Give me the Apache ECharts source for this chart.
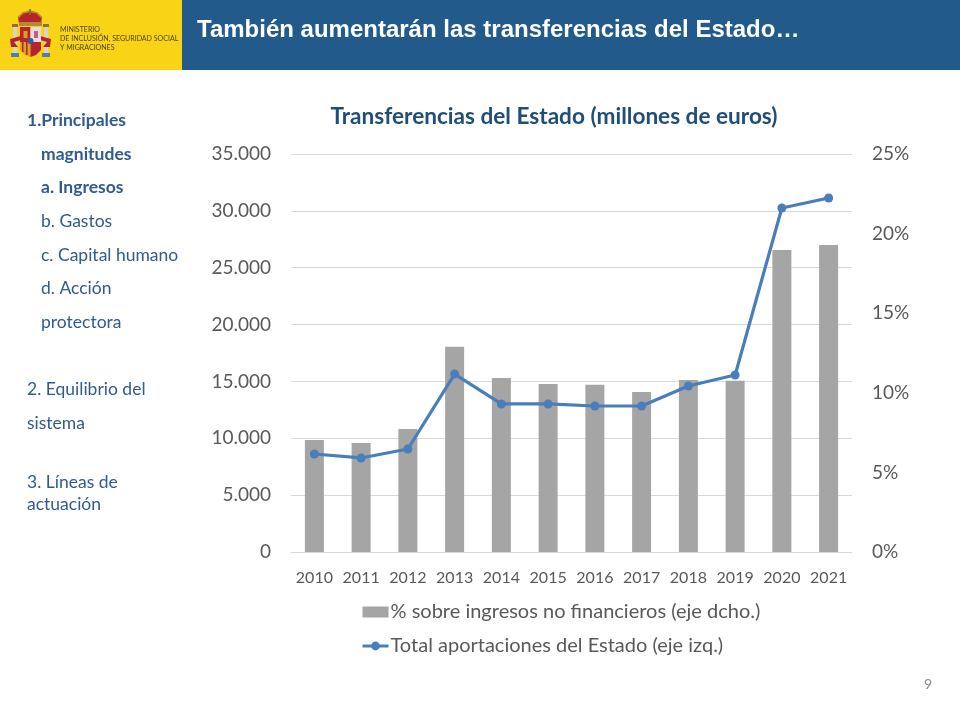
<!DOCTYPE html>
<html><head><meta charset="utf-8">
<style>html,body{margin:0;padding:0;background:#fff}#c{width:960px;height:720px}</style>
<script src="https://cdn.jsdelivr.net/npm/echarts@6/dist/echarts.min.js"></script>
</head><body><div id="c"></div>
<script>
var years=['2010','2011','2012','2013','2014','2015','2016','2017','2018','2019','2020','2021'];
var pctIngresos=[7.03,6.85,7.72,12.9,10.93,10.55,10.5,10.05,10.8,10.75,18.97,19.28];
var totalAportaciones=[8620,8270,9060,15650,13020,13020,12840,12840,14600,15570,30250,31130];
var barName='% sobre ingresos no financieros (eje dcho.)';
var lineName='Total aportaciones del Estado (eje izq.)';
var chartTitle='Transferencias del Estado (millones de euros)';
var slideTitle='También aumentarán las transferencias del Estado…';
var ministryLines=['MINISTERIO','DE INCLUSIÓN, SEGURIDAD SOCIAL','Y MIGRACIONES'];
var pageNumber='9';
var navItems=[
 ['1.Principales',27,120,true],['magnitudes',41,154,true],['a. Ingresos',41,187,true],
 ['b. Gastos',41,221,false],['c. Capital humano',41,255,false],['d. Acción',41,288,false],
 ['protectora',41,322,false],['2. Equilibrio del',27,389,false],['sistema',27,423,false],
 ['3. Líneas de',27,482,false],['actuación',27,504,false]];
var font='Lato, "Open Sans", sans-serif';
var grey='#595959', navy='#2f5b91';
var g=[
 {type:'rect',shape:{x:0,y:0,width:182,height:70},style:{fill:'#f9d316'}},
 {type:'rect',shape:{x:182,y:0,width:778,height:70},style:{fill:'#215a8b'}},
 {type:'text',style:{x:197,y:30,text:slideTitle,fill:'#fff',font:'bold 24px "Liberation Sans", Arial, sans-serif',textVerticalAlign:'middle'}},
 {type:'text',style:{x:928,y:684,text:pageNumber,fill:'#8a8a8a',font:'14px '+font,textAlign:'center',textVerticalAlign:'middle'}},
 // emblem: pillars
 {type:'rect',shape:{x:13,y:27,width:4,height:26},style:{fill:'#d8d4c4'}},
 {type:'rect',shape:{x:44,y:27,width:4,height:26},style:{fill:'#d8d4c4'}},
 {type:'rect',shape:{x:12,y:24,width:6,height:3},style:{fill:'#9a6b2a'}},
 {type:'rect',shape:{x:43,y:24,width:6,height:3},style:{fill:'#9a6b2a'}},
 {type:'rect',shape:{x:11,y:53,width:8,height:4},style:{fill:'#4f7fa8'}},
 {type:'rect',shape:{x:42,y:53,width:8,height:4},style:{fill:'#4f7fa8'}},
 // ribbons
 {type:'polygon',shape:{points:[[10,39],[21,36],[21,40],[14,42],[18,47],[11,47]]},style:{fill:'#b8242c'}},
 {type:'polygon',shape:{points:[[51,39],[40,36],[40,40],[47,42],[43,47],[50,47]]},style:{fill:'#b8242c'}},
 // crown
 {type:'polygon',shape:{points:[[19,24],[18,17],[23,13],[30,12],[37,13],[42,17],[41,24]]},style:{fill:'#b8242c'}},
 {type:'polyline',shape:{points:[[18,18],[23,13],[30,11],[37,13],[42,18]]},style:{fill:'none',stroke:'#b58a2e',lineWidth:1.5}},
 {type:'rect',shape:{x:29.2,y:9,width:1.6,height:6},style:{fill:'#8a6d2f'}},
 {type:'rect',shape:{x:19,y:22,width:23,height:4},style:{fill:'#b58a2e'}},
 // shield quarters
 {type:'rect',shape:{x:20,y:27,width:10.5,height:15},style:{fill:'#b8242c'}},
 {type:'rect',shape:{x:30.5,y:27,width:10.5,height:15},style:{fill:'#e8dbe2'}},
 {type:'rect',shape:{x:34,y:31,width:4,height:7},style:{fill:'#c45a8a'}},
 {type:'polygon',shape:{points:[[20,42],[30.5,42],[30.5,57],[25,55],[20,50]]},style:{fill:'#d9a026'}},
 {type:'rect',shape:{x:22,y:42,width:1.5,height:10},style:{fill:'#b8242c'}},
 {type:'rect',shape:{x:26,y:42,width:1.5,height:13},style:{fill:'#b8242c'}},
 {type:'polygon',shape:{points:[[30.5,42],[41,42],[41,50],[36,55],[30.5,57]]},style:{fill:'#b8242c'}},
 {type:'rect',shape:{x:23.5,y:31,width:4,height:7},style:{fill:'#d9a026'}},
 {type:'circle',shape:{cx:30.5,cy:41,r:3},style:{fill:'#2d5fa3'}}
];
ministryLines.forEach(function(t,i){g.push({type:'text',style:{x:60,y:29.5+i*9.3,text:t,fill:'#4f4618',font:'7.05px Lato, sans-serif',textVerticalAlign:'middle'}});});
navItems.forEach(function(n){g.push({type:'text',style:{x:n[1],y:n[2],text:n[0],fill:navy,font:(n[3]?'bold ':'')+'17.5px '+font,textVerticalAlign:'middle'}});});
var chart=echarts.init(document.getElementById('c'),null,{renderer:'canvas'});
chart.setOption({
 animation:false,backgroundColor:'#fff',
 title:{text:chartTitle,left:549,top:100,textAlign:'center',textStyle:{color:'#1f4e79',fontFamily:font,fontWeight:'bold',fontSize:22.6}},
 grid:{left:291,right:108,top:154,bottom:168},
 legend:{orient:'vertical',left:356,top:597,itemWidth:26,itemHeight:11,itemGap:14,
  lineStyle:{width:3},
  textStyle:{color:grey,fontFamily:font,fontSize:20,padding:[0,0,0,-3]},
  data:[{name:barName,icon:'rect'},{name:lineName}]},
 xAxis:{type:'category',data:years,axisTick:{show:false},axisLine:{lineStyle:{color:'#d9d9d9',width:1}},
  axisLabel:{color:grey,fontFamily:font,fontSize:16,margin:18,interval:0}},
 yAxis:[
  {type:'value',min:0,max:35000,interval:5000,axisLine:{show:false},axisTick:{show:false},
   splitLine:{lineStyle:{color:'#d9d9d9',width:1}},
   axisLabel:{color:grey,fontFamily:font,fontSize:19,margin:20,padding:[4,0,0,0],formatter:function(v){return String(v).replace(/\B(?=(\d{3})+$)/g,'.');}}},
  {type:'value',min:0,max:25,interval:5,position:'right',axisLine:{show:false},axisTick:{show:false},splitLine:{show:false},
   axisLabel:{color:grey,fontFamily:font,fontSize:19,margin:20,padding:[4,0,0,0],formatter:'{value}%'}}
 ],
 series:[
  {name:barName,type:'bar',yAxisIndex:1,data:pctIngresos,barWidth:19,itemStyle:{color:'#a5a5a5'}},
  {name:lineName,type:'line',yAxisIndex:0,data:totalAportaciones,symbol:'circle',symbolSize:9,
   lineStyle:{color:'#4a7ebb',width:3.2},itemStyle:{color:'#4a7ebb'}}
 ],
 graphic:g
});
</script></body></html>
